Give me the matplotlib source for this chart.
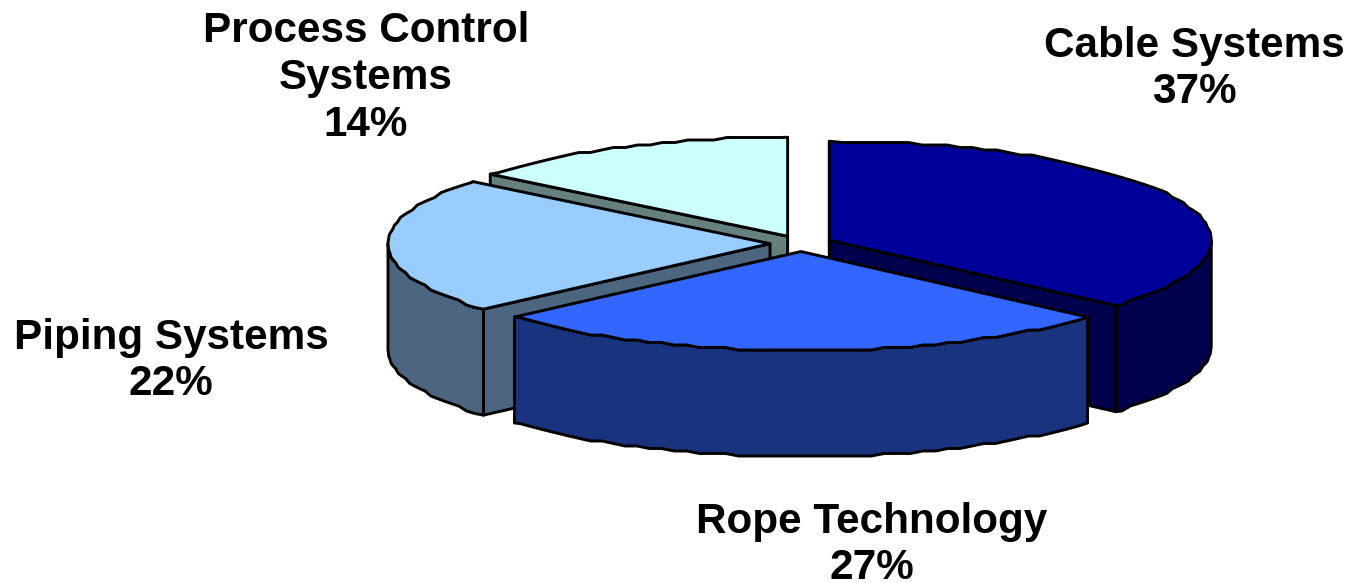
import matplotlib
matplotlib.use("Agg")
import matplotlib.pyplot as plt
from matplotlib.patches import Polygon
import numpy as np

# data
labels = ["Cable Systems", "Rope Technology", "Piping Systems", "Process Control\nSystems"]
shares = [36.5, 27.0, 22.3, 14.2]
share_labels = ["37%", "27%", "22%", "14%"]

top_colors = ["#000099", "#3366FF", "#99CCFF", "#CCFFFF"]
wall_colors = ["#00004D", "#19337F", "#4D667F", "#668080"]
label_pos = [(1194, 69), (872, 545), (171, 361), (366, 78)]

# pixel geometry of the fake 3d pie
CX, CY = 801, 243.5
RX, RY = 382, 99
DEPTH = 106
EXPLODE = 31
DRAW_ORDER = [3, 2, 0, 1]  # back to front


def arc(ax_, ay_, a0, a1, snap=True):
    # angles are clockwise from 12 o'clock
    t = np.radians(np.arange(a0, a1, 2.0).tolist() + [a1])
    x = ax_ + RX * np.sin(t)
    y = ay_ - RY * np.cos(t)
    if snap:
        # slightly stepped edge like the low-res outline of the original
        y[1:-1] = np.round(y[1:-1] / 2.5) * 2.5
    return np.column_stack([x, y])


def add_poly(ax, pts, color):
    ax.add_patch(Polygon(pts, closed=True, facecolor=color, edgecolor="black",
                         lw=2.1, joinstyle="round"))


def draw_slice(ax, a0, a1, top, wall):
    mid = np.radians((a0 + a1) / 2)
    px = CX + EXPLODE * np.sin(mid)
    py = CY - EXPLODE * np.cos(mid) * RY / RX

    # cut faces that look towards the viewer
    for a, visible in [(a0, np.sin(np.radians(a0)) < -1e-6), (a1, np.sin(np.radians(a1)) > 1e-6)]:
        if visible:
            edge = arc(px, py, a, a, snap=False)[-1]
            add_poly(ax, [(px, py), edge, edge + [0, DEPTH], (px, py + DEPTH)], wall)

    # outer rim, front half only
    lo, hi = max(a0, 90), min(a1, 270)
    if lo < hi:
        rim = arc(px, py, lo, hi)
        add_poly(ax, np.vstack([rim, (rim + [0, DEPTH])[::-1]]), wall)

    add_poly(ax, np.vstack([[(px, py)], arc(px, py, a0, a1)]), top)


def main():
    fig = plt.figure(figsize=(13.47, 5.83), dpi=100)
    ax = fig.add_axes([0, 0, 1, 1])
    ax.set_xlim(0, 1347)
    ax.set_ylim(583, 0)
    ax.axis("off")

    edges = np.concatenate([[0], np.cumsum(shares)]) * 3.6
    for i in DRAW_ORDER:
        draw_slice(ax, edges[i], edges[i + 1], top_colors[i], wall_colors[i])

    for label, pct, (x, y) in zip(labels, share_labels, label_pos):
        ax.text(x, y, f"{label}\n{pct}", ha="center", va="center",
                family="Liberation Sans", fontweight="bold", fontsize=30.4,
                linespacing=1.22, color="black")

    fig.savefig("out.png", dpi=100)
    plt.close(fig)


if __name__ == "__main__":
    main()
